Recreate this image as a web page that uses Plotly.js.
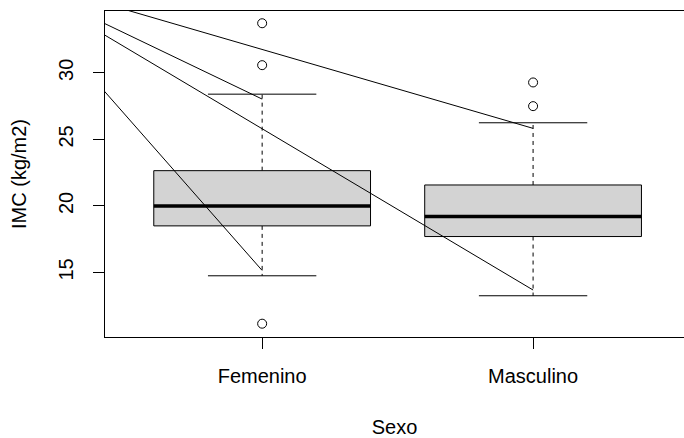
<!DOCTYPE html>
<html>
<head>
<meta charset="utf-8">
<script src="https://cdn.plot.ly/plotly-3.0.1.min.js"></script>
<style>html,body{margin:0;padding:0;background:#fff;}#chart{width:684px;height:438px;}</style>
</head>
<body>
<div id="chart"></div>
<script>
// ---- data ----
const categories = ['Femenino', 'Masculino'];
const positions = [1, 2];
const q1 = [18.5, 17.7];
const median = [20.0, 19.2];
const q3 = [22.65, 21.575];
const whiskerLow = [14.75, 13.25];
const whiskerHigh = [28.4, 26.25];
const outliersFemenino = [33.73, 30.58, 11.15];
const outliersMasculino = [29.28, 27.5];
const yTicks = [15, 20, 25, 30];
// straight lines drawn over the boxes: start (x,y) -> end (x,y)
const lineStartX = [0, 0, 0, 0];
const lineStartY = [37.69, 37.8, 37.92, 38.29];
const lineEndX = [2, 1, 2, 1];
const lineEndY = [25.83, 28.03, 13.68, 15.15];

// ---- build traces ----
const BOX_HW = 0.4, CAP_HW = 0.2;
const traces = [];
const outliers = [outliersFemenino, outliersMasculino];
positions.forEach((c, i) => {
  traces.push({x: [c, c], y: [q3[i], whiskerHigh[i]], mode: 'lines', line: {color: 'black', width: 1, dash: '4px,4px'}, hoverinfo: 'skip'});
  traces.push({x: [c, c], y: [q1[i], whiskerLow[i]], mode: 'lines', line: {color: 'black', width: 1, dash: '4px,4px'}, hoverinfo: 'skip'});
  traces.push({x: [c - CAP_HW, c + CAP_HW], y: [whiskerHigh[i], whiskerHigh[i]], mode: 'lines', line: {color: 'black', width: 1}, hoverinfo: 'skip'});
  traces.push({x: [c - CAP_HW, c + CAP_HW], y: [whiskerLow[i], whiskerLow[i]], mode: 'lines', line: {color: 'black', width: 1}, hoverinfo: 'skip'});
  traces.push({x: [c - BOX_HW, c + BOX_HW, c + BOX_HW, c - BOX_HW, c - BOX_HW],
               y: [q1[i], q1[i], q3[i], q3[i], q1[i]], mode: 'lines', fill: 'toself',
               fillcolor: '#D3D3D3', line: {color: 'black', width: 1}, hoverinfo: 'skip'});
  traces.push({x: [c - BOX_HW, c + BOX_HW], y: [median[i], median[i]], mode: 'lines', line: {color: 'black', width: 3.5}, hoverinfo: 'skip'});
  traces.push({x: outliers[i].map(() => c), y: outliers[i], mode: 'markers',
               marker: {symbol: 'circle-open', size: 9, color: 'black', line: {width: 1, color: 'black'}}, hoverinfo: 'skip'});
});
for (let k = 0; k < lineStartX.length; k++) {
  traces.push({x: [lineStartX[k], lineEndX[k]], y: [lineStartY[k], lineEndY[k]], mode: 'lines', line: {color: 'black', width: 1}, hoverinfo: 'skip'});
}

const font = {family: 'Liberation Sans, Arial, sans-serif', size: 20, color: 'black'};
const layout = {
  width: 684, height: 438,
  margin: {l: 105, r: 0, t: 11, b: 101, pad: 0},
  showlegend: false,
  paper_bgcolor: 'white', plot_bgcolor: 'white',
  font: font,
  xaxis: {
    range: [0.42, 2.557], tickvals: positions, ticktext: categories,
    ticks: 'outside', ticklen: 11, tickwidth: 1, tickcolor: 'black',
    ticklabelstandoff: 10,
    showline: true, mirror: true, linecolor: 'black', linewidth: 1,
    showgrid: false, zeroline: false, tickfont: font,
    title: {text: 'Sexo', font: font, standoff: 34}
  },
  yaxis: {
    range: [10.15, 34.65], tickvals: yTicks, ticktext: yTicks.map(String),
    ticks: 'outside', ticklen: 11, tickwidth: 1, tickcolor: 'black', tickangle: -90,
    ticklabelstandoff: 12,
    showline: true, mirror: false, linecolor: 'black', linewidth: 1,
    showgrid: false, zeroline: false, tickfont: font,
    title: {text: 'IMC (kg/m2)', font: font, standoff: 23}
  }
};
Plotly.newPlot('chart', traces, layout, {staticPlot: true, displayModeBar: false});
</script>
</body>
</html>
